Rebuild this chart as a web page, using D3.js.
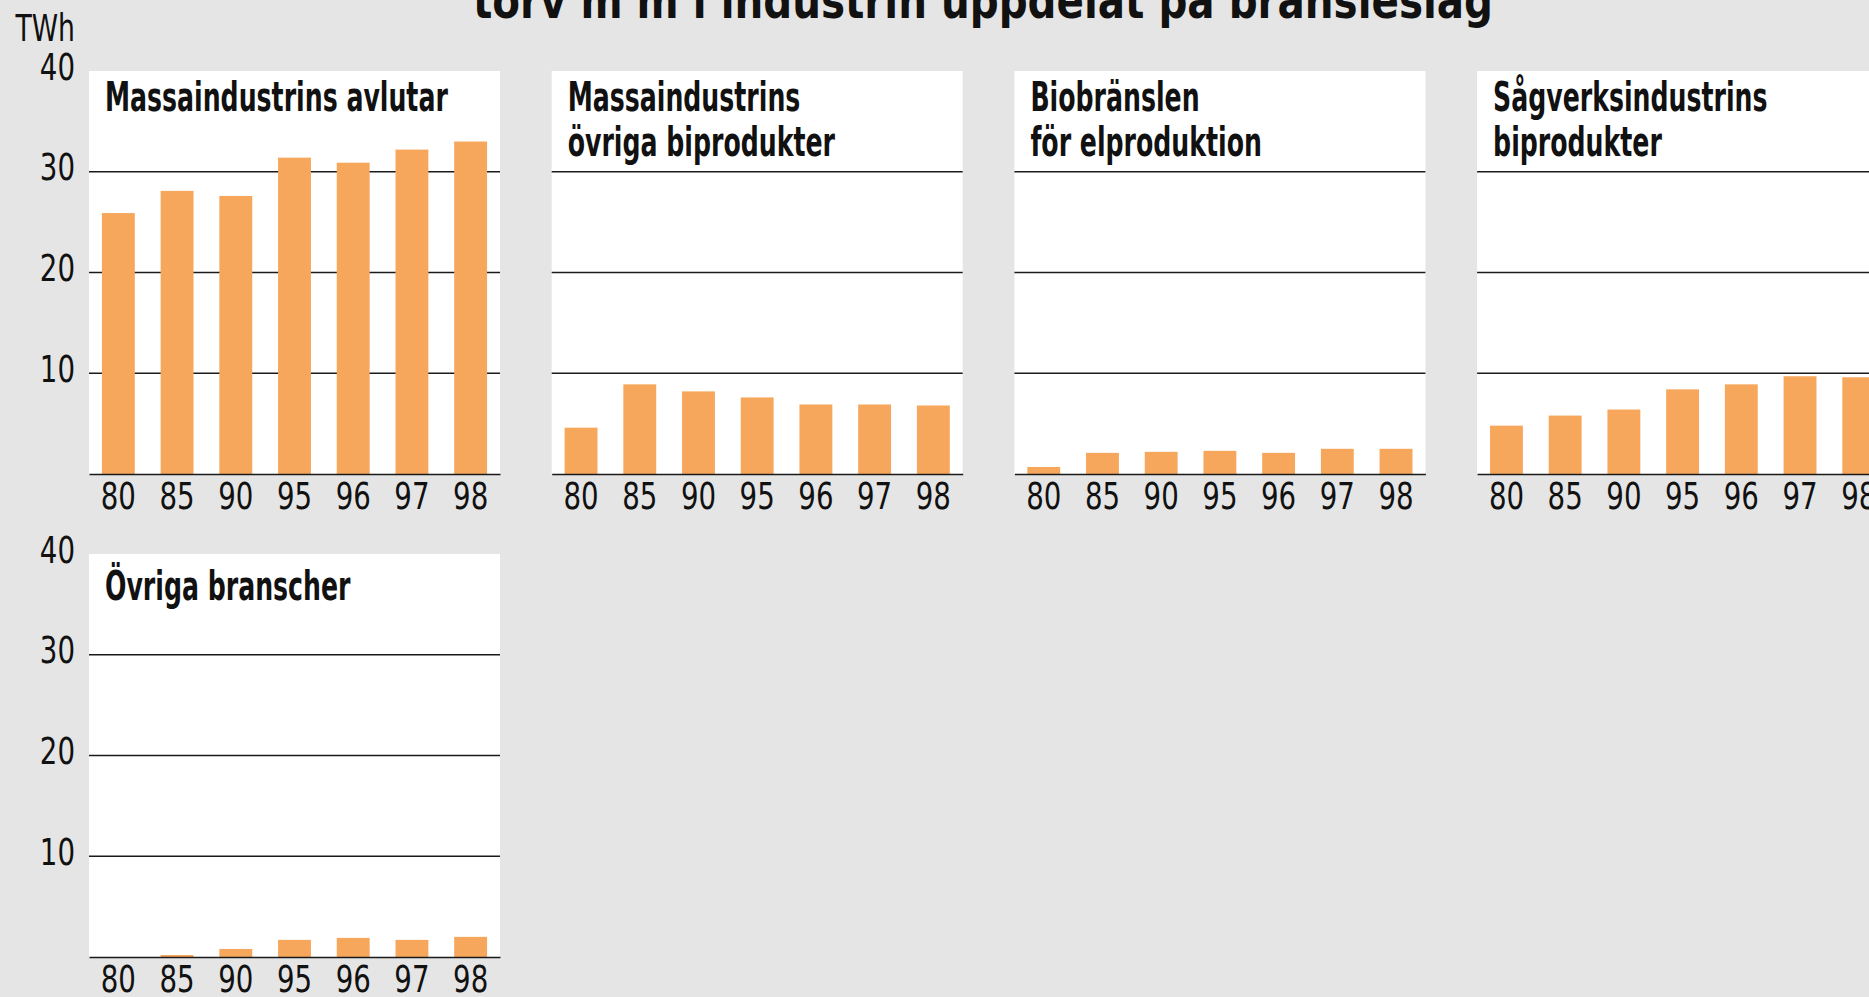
<!DOCTYPE html>
<html lang="sv">
  <head>
    <meta charset="UTF-8" />
    <meta name="viewport" content="width=device-width, initial-scale=1.0" />
    <title>Biobränslen i industrin</title>
    <style>
      body {
        margin: 0;
        background: #e5e5e5;
        overflow: hidden;
      }

      #viz text {
        font-family: "DejaVu Sans Condensed", "DejaVu Sans", sans-serif;
        fill: #111;
      }

      .tick-label {
        font-size: 37px;
      }

      .panel-title {
        font-size: 40px;
        font-weight: bold;
      }

      .main-title {
        font-size: 50px;
        font-weight: bold;
      }
    </style>
  </head>
  <body>
    <div id="viz"></div>
    <script src="https://cdnjs.cloudflare.com/ajax/libs/d3/7.8.5/d3.min.js"></script>
    <script>
      // years on the x axis (two-digit)
      let years = ["80", "85", "90", "95", "96", "97", "98"];
      let yTicks = [10, 20, 30, 40];

      // TWh per category
      let massaAvlutar = [25.9, 28.1, 27.6, 31.4, 30.9, 32.2, 33.0];
      let massaOvriga = [4.6, 8.9, 8.2, 7.6, 6.9, 6.9, 6.8];
      let bioElprod = [0.7, 2.1, 2.2, 2.3, 2.1, 2.5, 2.5];
      let sagverk = [4.8, 5.8, 6.4, 8.4, 8.9, 9.7, 9.6];
      let ovrigaBranscher = [0, 0.2, 0.8, 1.7, 1.9, 1.7, 2.0];

      let panelTitles = [
        ["Massaindustrins avlutar"],
        ["Massaindustrins", "övriga biprodukter"],
        ["Biobränslen", "för elproduktion"],
        ["Sågverksindustrins", "biprodukter"],
        ["Övriga branscher"]
      ];
      let panelValues = [massaAvlutar, massaOvriga, bioElprod, sagverk, ovrigaBranscher];

      let title = "torv m m i industrin uppdelat på bränsleslag";
      let unit = "TWh";

      let width = 1869,
          height = 997,
          panelW = 411,
          panelH = 403,
          colStep = 462.7,
          left0 = 89,
          rowTops = [71, 554],
          titleOffsets = [40, 46];

      // the original face is a condensed Futura, so squeeze DejaVu a bit
      function condense(sel, factor) {
        sel.each(function () {
          let w = this.getComputedTextLength();
          d3.select(this)
            .attr("textLength", w * factor)
            .attr("lengthAdjust", "spacingAndGlyphs");
        });
      }

      let svg = d3.select("#viz")
        .append("svg")
        .attr("width", width)
        .attr("height", height)
        .style("display", "block");

      svg.append("rect")
        .attr("width", width)
        .attr("height", height)
        .attr("fill", "#e5e5e5");

      svg.append("text")
        .attr("class", "main-title")
        .attr("x", 473)
        .attr("y", 18)
        .attr("textLength", 1020)
        .attr("lengthAdjust", "spacingAndGlyphs")
        .text(title);

      svg.append("text")
        .attr("class", "tick-label")
        .attr("x", 75)
        .attr("y", 41)
        .attr("text-anchor", "end")
        .text(unit)
        .call(condense, 0.8);

      let x = d3.scaleBand()
        .domain(years)
        .range([0, panelW])
        .paddingInner(0.44)
        .paddingOuter(0.22);

      let y = d3.scaleLinear()
        .domain([0, 40])
        .range([panelH, 0]);

      panelValues.forEach((values, i) => {
        let row = Math.floor(i / 4),
            col = i % 4;

        let g = svg.append("g")
          .attr("transform", `translate(${left0 + col * colStep}, ${rowTops[row]})`);

        g.append("rect")
          .attr("width", panelW)
          .attr("height", panelH)
          .attr("fill", "#fff");

        // grid lines behind the bars
        g.selectAll(".grid")
          .data(yTicks.filter(t => t < 40))
          .join("line")
          .attr("class", "grid")
          .attr("x1", 0)
          .attr("x2", panelW)
          .attr("y1", d => y(d))
          .attr("y2", d => y(d))
          .attr("stroke", "#1a1a1a")
          .attr("stroke-width", 1.6);

        g.selectAll(".bar")
          .data(values.map((v, j) => ({ year: years[j], value: v })))
          .join("rect")
          .attr("class", "bar")
          .attr("x", d => x(d.year))
          .attr("y", d => y(d.value))
          .attr("width", x.bandwidth())
          .attr("height", d => panelH - y(d.value))
          .attr("fill", "#f7a75c");

        let xAxis = g.append("g")
          .attr("transform", `translate(0, ${panelH})`)
          .call(d3.axisBottom(x).tickSize(0).tickSizeOuter(0).tickPadding(9));

        xAxis.select(".domain")
          .attr("stroke", "#1a1a1a")
          .attr("stroke-width", 1.6);

        xAxis.selectAll("text")
          .attr("class", "tick-label")
          .attr("font-size", null)
          .attr("font-family", null)
          .call(condense, 0.83);

        if (col === 0) {
          let yAxis = g.append("g")
            .call(d3.axisLeft(y).tickValues(yTicks).tickSize(0).tickPadding(14));

          yAxis.select(".domain").remove();

          yAxis.selectAll("text")
            .attr("class", "tick-label")
            .attr("dy", "0.22em")
            .attr("font-size", null)
            .attr("font-family", null)
            .call(condense, 0.83);
        }

        g.selectAll(".panel-title")
          .data(panelTitles[i])
          .join("text")
          .attr("class", "panel-title")
          .attr("x", 16)
          .attr("y", (d, k) => titleOffsets[row] + k * 45)
          .text(d => d)
          .call(condense, 0.70);
      });
    </script>
  </body>
</html>
